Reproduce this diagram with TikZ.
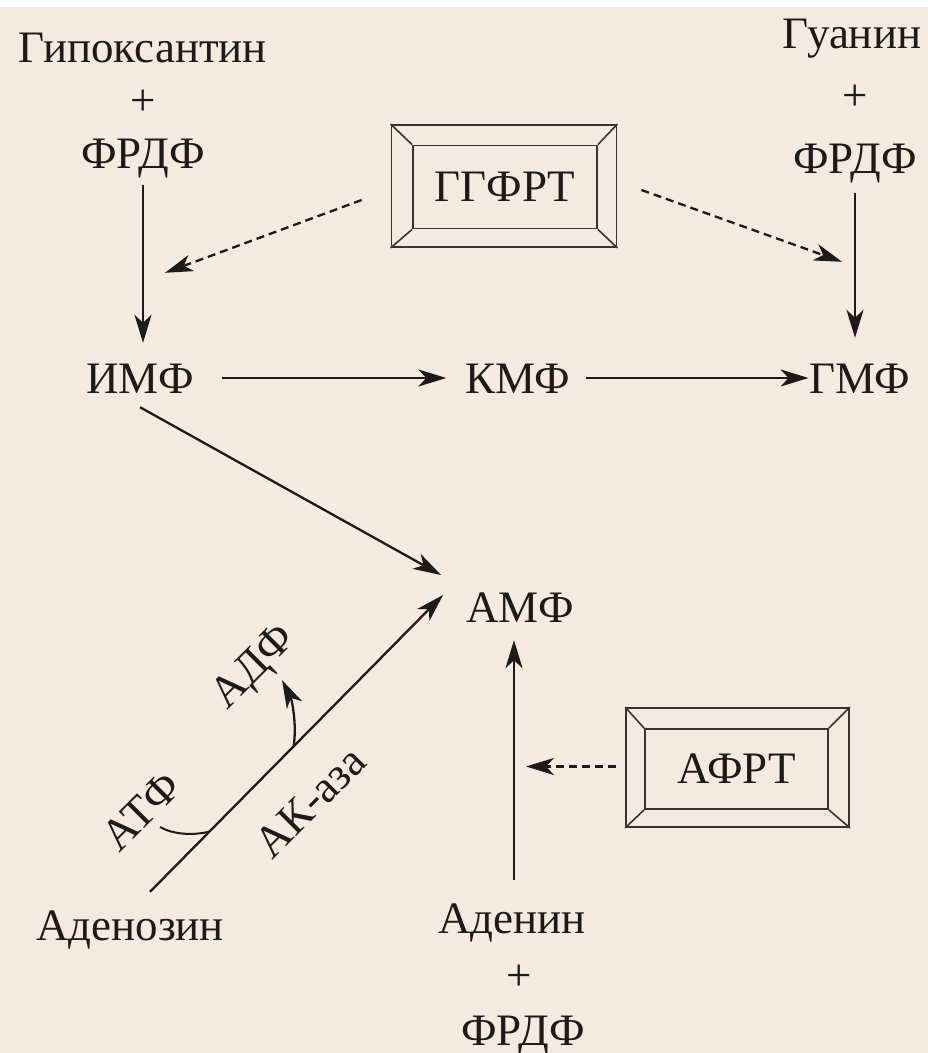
\documentclass[tikz,border=0pt]{standalone}
\usepackage{fontspec}
\setmainfont{Liberation Serif}
\usetikzlibrary{arrows.meta,calc}
\definecolor{bg}{HTML}{F5EADF}
\definecolor{ink}{HTML}{1E1A18}
\definecolor{boxc}{HTML}{3A322E}
\newcommand\diagfont{\fontsize{45}{52}\selectfont}
\begin{document}
\begin{tikzpicture}[x=1pt,y=-1pt,
  lbl/.style={inner sep=0pt, text height=30pt, text depth=0pt, font=\diagfont, text=ink, anchor=base},
  rlbl/.style={inner sep=0pt, font=\diagfont, text=ink, rotate=45},
  arr/.style={draw=ink, line width=2.3pt, -{Stealth[length=28pt,width=17pt,inset=8pt]}},
  dsh/.style={arr, dash pattern=on 8pt off 5pt},
  thinl/.style={draw=ink, line width=2pt},
  boxO/.style={draw=boxc, line width=1.8pt, inner sep=0pt},
  boxI/.style={draw=boxc, line width=1.8pt, inner sep=0pt, font=\diagfont, text=ink},
  bline/.style={draw=boxc, line width=1.6pt}]
\fill[white] (0,0) rectangle (928,7);
\fill[bg] (0,7) rectangle (928,1053);
\useasboundingbox (0,0) rectangle (928,1053);

% text nodes
\node[lbl] (hypo) at (143,62) {Гипоксантин};
\node[lbl] (hplus) at (143,115) {+};
\node[lbl] (hfrdf) at (143,168) {ФРДФ};
\node[lbl] (guan) at (852,48) {Гуанин};
\node[lbl] (gplus) at (855,110) {+};
\node[lbl] (gfrdf) at (855,173) {ФРДФ};
\node[lbl] (imf) at (140,393) {ИМФ};
\node[lbl] (kmf) at (518,393) {КМФ};
\node[lbl] (gmf) at (860,393) {ГМФ};
\node[lbl] (amf) at (520,622) {АМФ};
\node[lbl] (adnz) at (130,940) {Аденозин};
\node[lbl] (adnn) at (512,933) {Аденин};
\node[lbl] (aplus) at (519,990) {+};
\node[lbl] (afrdf) at (523,1045) {ФРДФ};

% enzyme boxes
\node[boxO, minimum width=225pt, minimum height=122pt] (ggO) at (504,186) {};
\node[boxI, minimum width=184pt, minimum height=83pt] (gg) at (505,187) {ГГФРТ};
\draw[bline] (ggO.north west) -- (gg.north west);
\draw[bline] (ggO.north east) -- (gg.north east);
\draw[bline] (ggO.south west) -- (gg.south west);
\draw[bline] (ggO.south east) -- (gg.south east);

\node[boxO, minimum width=223pt, minimum height=119pt] (afO) at (737.5,767.5) {};
\node[boxI, minimum width=183pt, minimum height=80pt] (af) at (736.5,769) {АФРТ};
\draw[bline] (afO.north west) -- (af.north west);
\draw[bline] (afO.north east) -- (af.north east);
\draw[bline] (afO.south west) -- (af.south west);
\draw[bline] (afO.south east) -- (af.south east);

% main arrows
\draw[arr] ($(hfrdf.base)+(0,17)$) -- ($(hfrdf.base |- imf.north)+(0,-20)$);
\draw[arr] ($(gfrdf.base)+(0,20)$) -- ($(gfrdf.base |- gmf.north)+(0,-25)$);
\draw[arr] ($(imf.base east)+(28,-15)$) -- ($(kmf.base west)+(-19,-15)$);
\draw[arr] ($(kmf.base east)+(15,-15)$) -- ($(gmf.base west)+(-1,-15)$);
\draw[arr] ($(imf.south)+(0,14)$) -- ($(amf.west)+(-25,-32)$);
\draw[arr] ($(adnz.north)+(20,-18)$) -- coordinate[pos=0.203] (atfjoin) coordinate[pos=0.49] (adfjoin) ($(amf.west)+(-23,-12)$);
\draw[arr] ($(adnn.north)+(2,-23)$) -- ($(adnn.north |- amf.south)+(2,18)$);

% ATP / ADP side branches
\coordinate (atffree) at (160,827);
\draw[thinl] (atffree) .. controls (172,834) and (192,836) .. (atfjoin);
\coordinate (adffree) at (282,680);
\draw[arr] (adfjoin) .. controls (297,725) and (292,700) .. (adffree);

\node[rlbl] (atf) at (141,811) {АТФ};
\node[rlbl] (adf) at (255,668) {АДФ};
\node[rlbl] (akaza) at (310,802) {АК-аза};

% dashed enzyme arrows
\draw[dsh] ($(ggO.west)+(-29,14)$) -- ($(imf.north)+(25,-90)$);
\draw[dsh] ($(ggO.east)+(24,4)$) -- ($(gmf.north)+(-18,-101)$);
\draw[dsh] ($(afO.west)+(-9,-1)$) -- ($(adnn.north |- afO.west)+(14,-1)$);
\end{tikzpicture}
\end{document}
